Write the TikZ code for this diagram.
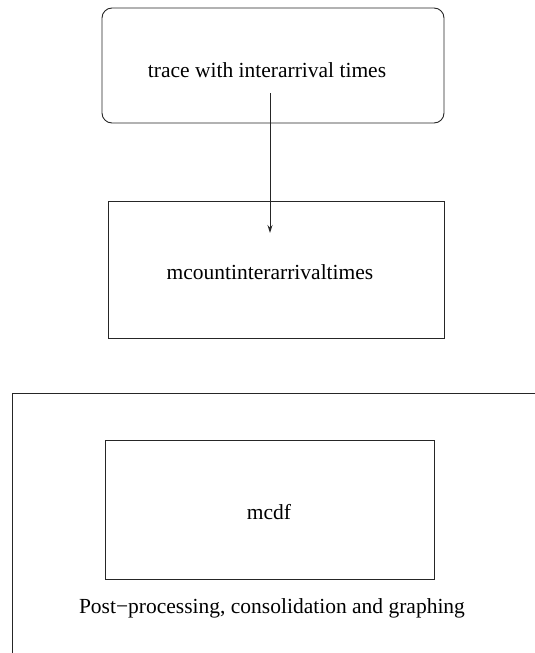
\documentclass[tikz,border=0pt]{standalone}
\usepackage{fontspec}
\setmainfont{Liberation Serif}
\usetikzlibrary{arrows.meta}
\begin{document}
\begin{tikzpicture}[x=1pt,y=-1pt,
  lbl/.style={font=\fontsize{21.5}{25}\selectfont, inner sep=0pt},
  boxline/.style={draw=black!85, line width=0.9pt}]
\useasboundingbox (0,0) rectangle (535,653);
\clip (0,0) rectangle (535,653);
% top rounded box
\draw[boxline, rounded corners=10pt] (102,8) rectangle (444,123);
\node[lbl] (trace) at (267,70) {trace with interarrival times};
% middle box
\draw[boxline] (108,201) rectangle (444,338);
\node[lbl] (mcount) at (270,272) {mcountinterarrivaltimes};
% bottom frame (extends beyond the page)
\draw[boxline] (12,393) rectangle (560,680);
\draw[boxline] (105,440) rectangle (434,579);
\node[lbl] (mcdf) at (269,512) {mcdf};
\node[lbl] (post) at (272,608) {Post−processing, consolidation and graphing};
% arrow
\coordinate (a1) at (270,93);
\coordinate (a2) at (270,233);
\draw[boxline, -{Stealth[length=8pt,width=5pt]}] (a1) -- (a2);
\end{tikzpicture}
\end{document}
